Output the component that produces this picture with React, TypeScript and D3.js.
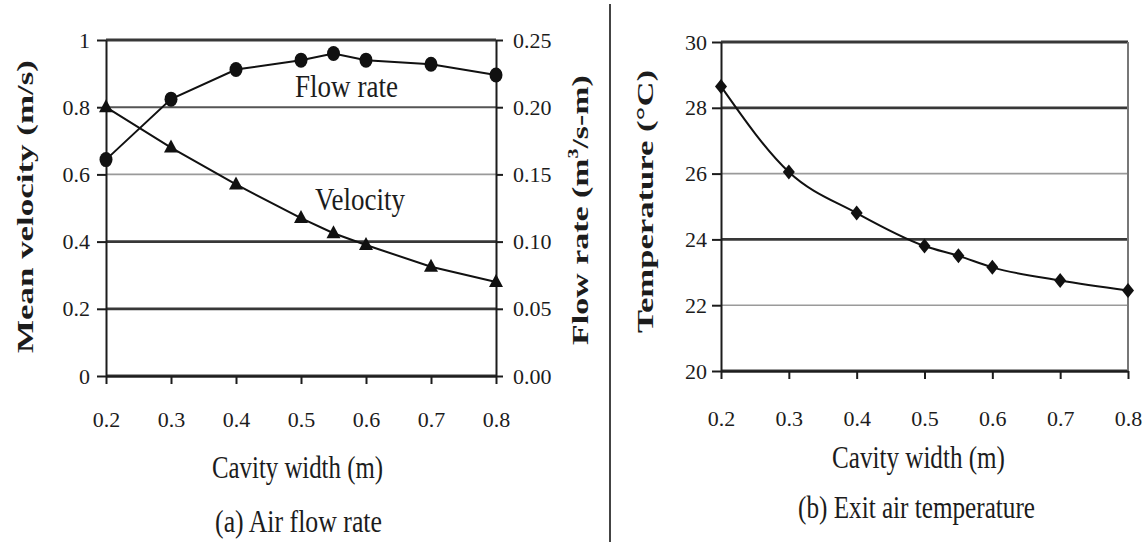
import React, { useRef, useEffect } from 'react';
import * as d3 from 'd3';

// cavity widths where the model was evaluated (m)
const cavityWidths = [0.2, 0.3, 0.4, 0.5, 0.55, 0.6, 0.7, 0.8];
// (a) air flow rate
const flowRate = [0.161, 0.206, 0.228, 0.235, 0.24, 0.235, 0.232, 0.224];
const velocity = [0.8, 0.68, 0.57, 0.47, 0.425, 0.39, 0.325, 0.28];
// (b) exit air temperature
const temperature = [28.65, 26.05, 24.8, 23.8, 23.5, 23.15, 22.75, 22.45];

const xTicks = [0.2, 0.3, 0.4, 0.5, 0.6, 0.7, 0.8];
const velocityTicks = [0, 0.2, 0.4, 0.6, 0.8, 1];
const flowTicks = [0, 0.05, 0.1, 0.15, 0.2, 0.25];
const tempTicks = [20, 22, 24, 26, 28, 30];

const App = () => {
    const svgRef = useRef<SVGSVGElement>(null);

    useEffect(() => {
        drawCharts();
    }, []);

    const drawCharts = () => {
        const svg = d3.select(svgRef.current);
        svg.selectAll('*').remove();

        const font = '"Liberation Serif", "Times New Roman", serif';
        const ink = '#1c1c1c';

        // text that gets squeezed / stretched to the width seen in the picture
        const label = (parts: any[], cx: number, cy: number, width: number, size: number, rotate = 0, weight = 'normal') => {
            const t = svg.append('text')
                .attr('font-family', font)
                .attr('font-size', size)
                .attr('font-weight', weight)
                .attr('fill', ink)
                .attr('text-anchor', 'middle');
            parts.forEach(p => {
                t.append('tspan')
                    .attr('dy', p.dy || 0)
                    .attr('font-size', p.size || size)
                    .text(p.text);
            });
            const natural = (t.node() as SVGTextElement).getComputedTextLength();
            t.attr('transform', `translate(${cx},${cy}) rotate(${rotate}) scale(${width / natural},1)`);
        };

        const styleAxis = (g: any) => {
            g.attr('font-family', font).attr('font-size', 22);
            g.selectAll('text').attr('fill', ink);
            g.selectAll('line').attr('stroke', ink).attr('stroke-width', 2);
            g.select('.domain').attr('stroke', ink).attr('stroke-width', 2);
        };

        const gridStroke = (thin: boolean) => (thin ? '#9a9a9a' : '#383838');
        const gridWidth = (thin: boolean) => (thin ? 1.6 : 2.8);

        // separator between the two panels
        svg.append('line')
            .attr('x1', 610).attr('x2', 610)
            .attr('y1', 4).attr('y2', 542)
            .attr('stroke', '#444').attr('stroke-width', 2);

        // ---------- (a) Air flow rate ----------
        const xA = d3.scaleLinear().domain([0.2, 0.8]).range([106, 496]);
        const yV = d3.scaleLinear().domain([0, 1]).range([376, 40]);
        const yQ = d3.scaleLinear().domain([0, 0.25]).range([376, 40]);

        svg.append('g')
            .selectAll('line')
            .data(velocityTicks)
            .enter().append('line')
            .attr('x1', xA(0.2)).attr('x2', xA(0.8))
            .attr('y1', d => yV(d)).attr('y2', d => yV(d))
            .attr('stroke', d => (d === 0.8 ? '#555' : gridStroke(d === 0.6)))
            .attr('stroke-width', d => (d === 0.8 ? 2 : gridWidth(d === 0.6)));

        svg.append('g')
            .attr('transform', `translate(${xA(0.2)},0)`)
            .call(d3.axisLeft(yV).tickValues(velocityTicks).tickFormat(d => String(d)).tickSize(9).tickSizeOuter(0).tickPadding(7))
            .call(styleAxis);

        svg.append('g')
            .attr('transform', `translate(${xA(0.8)},0)`)
            .call(d3.axisRight(yQ).tickValues(flowTicks).tickFormat(d3.format('.2f')).tickSize(7).tickSizeOuter(0).tickPadding(10))
            .call(styleAxis);

        svg.append('g')
            .attr('transform', `translate(0,${yV(0)})`)
            .call(d3.axisBottom(xA).tickValues(xTicks).tickFormat(d3.format('.1f')).tickSize(8).tickSizeOuter(0).tickPadding(27))
            .call(styleAxis);

        const flowPts = cavityWidths.map((w, i) => [xA(w), yQ(flowRate[i])] as [number, number]);
        const velPts = cavityWidths.map((w, i) => [xA(w), yV(velocity[i])] as [number, number]);
        const line = d3.line();

        svg.append('path').attr('d', line(flowPts)).attr('fill', 'none').attr('stroke', '#111').attr('stroke-width', 2);
        svg.append('path').attr('d', line(velPts)).attr('fill', 'none').attr('stroke', '#111').attr('stroke-width', 2);

        svg.append('g').selectAll('ellipse')
            .data(flowPts)
            .enter().append('ellipse')
            .attr('cx', d => d[0]).attr('cy', d => d[1])
            .attr('rx', 6.5).attr('ry', 7.5)
            .attr('fill', '#111');

        svg.append('g').selectAll('path')
            .data(velPts)
            .enter().append('path')
            .attr('d', d => `M${d[0]},${d[1] - 8}L${d[0] + 7},${d[1] + 5}L${d[0] - 7},${d[1] + 5}Z`)
            .attr('fill', '#111');

        label([{ text: 'Flow rate' }], 346.5, 97, 103, 32);
        label([{ text: 'Velocity' }], 360, 210, 90, 32);
        label([{ text: 'Mean velocity (m/s)' }], 33, 206.5, 293, 24, -90, 'bold');
        label([{ text: 'Flow rate (m' }, { text: '3', dy: -10, size: 14 }, { text: '/s-m)', dy: 10 }], 588, 210, 270, 24, -90, 'bold');
        label([{ text: 'Cavity width (m)' }], 297.5, 478, 171, 32);
        label([{ text: '(a) Air flow rate' }], 298.5, 532, 167, 32);

        // ---------- (b) Exit air temperature ----------
        const xB = d3.scaleLinear().domain([0.2, 0.8]).range([721, 1128]);
        const yT = d3.scaleLinear().domain([20, 30]).range([371, 42]);

        svg.append('g')
            .selectAll('line')
            .data(tempTicks)
            .enter().append('line')
            .attr('x1', xB(0.2)).attr('x2', xB(0.8))
            .attr('y1', d => yT(d)).attr('y2', d => yT(d))
            .attr('stroke', d => gridStroke(d === 26 || d === 22))
            .attr('stroke-width', d => gridWidth(d === 26 || d === 22));

        svg.append('line')
            .attr('x1', xB(0.8)).attr('x2', xB(0.8))
            .attr('y1', yT(30)).attr('y2', yT(20))
            .attr('stroke', '#777').attr('stroke-width', 2);

        svg.append('g')
            .attr('transform', `translate(${xB(0.2)},0)`)
            .call(d3.axisLeft(yT).tickValues(tempTicks).tickFormat(d => String(d)).tickSize(9).tickSizeOuter(0).tickPadding(5))
            .call(styleAxis);

        svg.append('g')
            .attr('transform', `translate(0,${yT(20)})`)
            .call(d3.axisBottom(xB).tickValues(xTicks).tickFormat(d3.format('.1f')).tickSize(8).tickSizeOuter(0).tickPadding(31))
            .call(styleAxis);

        const tempPts = cavityWidths.map((w, i) => [xB(w), yT(temperature[i])] as [number, number]);
        svg.append('path')
            .attr('d', d3.line().curve(d3.curveMonotoneX)(tempPts))
            .attr('fill', 'none').attr('stroke', '#111').attr('stroke-width', 2);

        svg.append('g').selectAll('path')
            .data(tempPts)
            .enter().append('path')
            .attr('d', d => `M${d[0]},${d[1] - 7.5}L${d[0] + 6},${d[1]}L${d[0]},${d[1] + 7.5}L${d[0] - 6},${d[1]}Z`)
            .attr('fill', '#111');

        label([{ text: 'Temperature (°C)' }], 653, 201.5, 263, 24, -90, 'bold');
        label([{ text: 'Cavity width (m)' }], 918.5, 468, 173, 32);
        label([{ text: '(b) Exit air temperature' }], 916.5, 518, 237, 32);
    };

    return (
        <svg ref={svgRef} width={1145} height={542} style={{ position: 'absolute', left: 0, top: 0, background: '#fff' }}></svg>
    );
};

export default App;
